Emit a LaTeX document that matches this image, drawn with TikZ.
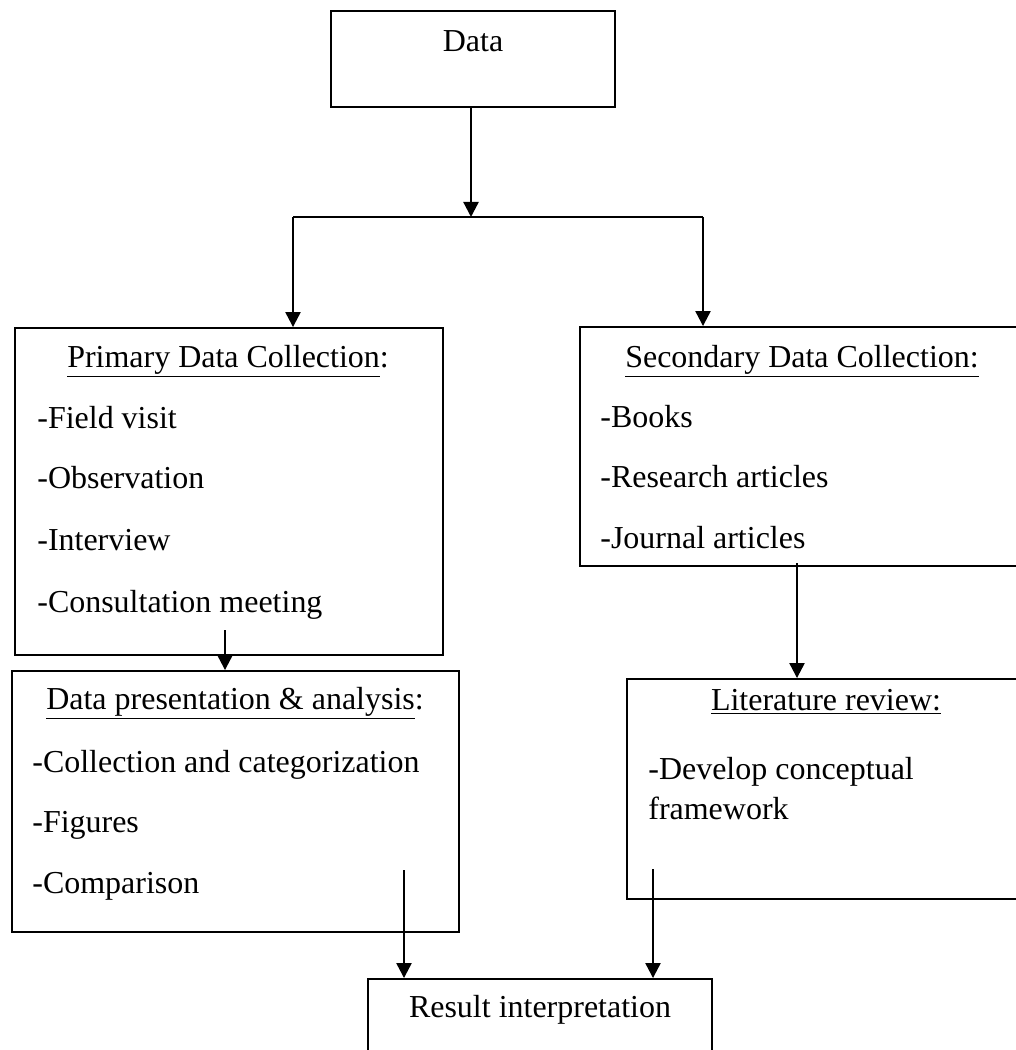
\documentclass[tikz,border=0pt]{standalone}
\usepackage{fontspec}
\setmainfont{Liberation Serif}
\usetikzlibrary{arrows.meta}

\begin{document}
\begin{tikzpicture}[x=0.02cm, y=-0.02cm,
    box/.style={draw, line width=1.1pt, inner sep=0pt},
    txt/.style={inner sep=0pt, font=\fontsize{18.2}{22}\selectfont},
    flow/.style={line width=1.3pt, -{Triangle[width=0.3cm, length=0.3cm]}}]

          \useasboundingbox (0,0) rectangle (1016,1050);

          \node[box, minimum width=5.68cm, minimum height=1.92cm] (data) at (473,59) {};
          \node[box, minimum width=8.56cm, minimum height=6.54cm] (primary) at (229,491.5) {};
          \node[box, minimum width=9cm, minimum height=4.78cm] (secondary) at (805,446.5) {};
          \node[box, minimum width=8.94cm, minimum height=5.22cm] (analysis) at (235.5,801.5) {};
          \node[box, minimum width=8.06cm, minimum height=4.4cm] (literature) at (828.5,789) {};
          \node[box, minimum width=6.88cm, minimum height=1.82cm] (result) at (540,1024.5) {};

          \node[txt, anchor=base] (datatitle) at (473,52) {Data};

          \node[txt, anchor=base] (primtitle) at (228,367) {\underline{Primary Data Collection}:};
          \node[txt, anchor=base west] (prim1) at (37,428) {-Field visit};
          \node[txt, anchor=base west] (prim2) at (37,488) {-Observation};
          \node[txt, anchor=base west] (prim3) at (37,550) {-Interview};
          \node[txt, anchor=base west] (prim4) at (37,612) {-Consultation meeting};

          \node[txt, anchor=base] (sectitle) at (802,367) {\underline{Secondary Data Collection:}};
          \node[txt, anchor=base west] (sec1) at (600,427) {-Books};
          \node[txt, anchor=base west] (sec2) at (600,487) {-Research articles};
          \node[txt, anchor=base west] (sec3) at (600,548) {-Journal articles};

          \node[txt, anchor=base] (anatitle) at (235,709) {\underline{Data presentation \& analysis}:};
          \node[txt, anchor=base west] (ana1) at (32,772) {-Collection and categorization};
          \node[txt, anchor=base west] (ana2) at (32,832) {-Figures};
          \node[txt, anchor=base west] (ana3) at (32,893) {-Comparison};

          \node[txt, anchor=base] (littitle) at (826,710) {\underline{Literature review:}};
          \node[txt, anchor=base west] (lit1) at (648,779) {-Develop conceptual};
          \node[txt, anchor=base west] (lit2) at (648,819) {framework};

          \node[txt, anchor=base] (restitle) at (540,1017) {Result interpretation};

          \coordinate (split) at (471,217);
          \coordinate (splitL) at (293,217);
          \coordinate (splitR) at (703,217);
          \coordinate (primout) at (225,630);
          \coordinate (secout) at (797,563);
          \coordinate (anaout) at (404,870);
          \coordinate (litout) at (653,869);

          \draw[flow] (split |- data.south) -- (split);
          \draw[line width=1.1pt] (splitL) -- (splitR);
          \draw[flow] (splitL) -- (splitL |- primary.north);
          \draw[flow] (splitR) -- (splitR |- secondary.north);
          \draw[flow] (primout) -- (primout |- analysis.north);
          \draw[flow] (secout) -- (secout |- literature.north);
          \draw[flow] (anaout) -- (anaout |- result.north);
          \draw[flow] (litout) -- (litout |- result.north);
        \end{tikzpicture}
\end{document}
